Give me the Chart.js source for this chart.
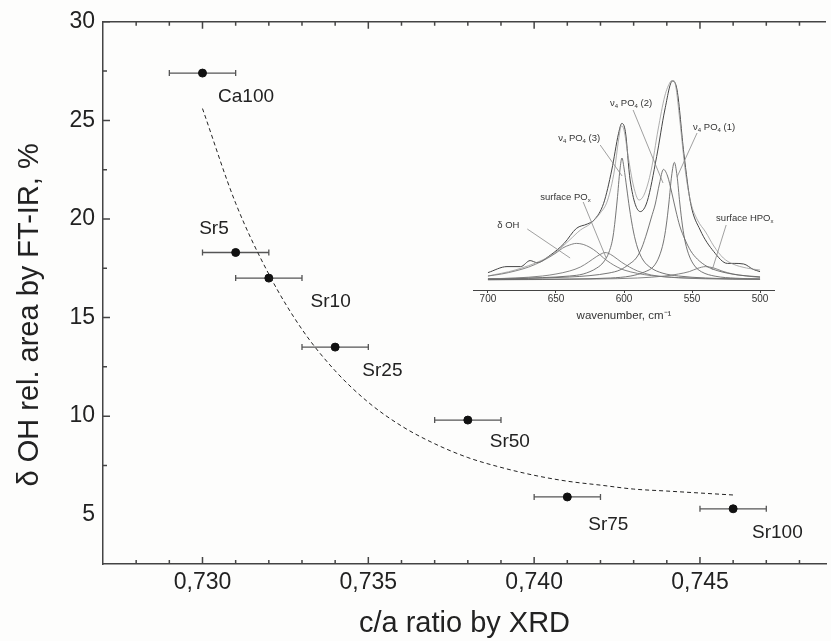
<!DOCTYPE html>
<html>
<head>
<meta charset="utf-8">
<script src="https://cdn.jsdelivr.net/npm/chart.js@4.4.1/dist/chart.umd.min.js"></script>
<style>
  html, body { margin:0; padding:0; background:#fdfdfc; overflow:hidden; }
  #wrap { position:relative; width:831px; height:641px; }
  #main { position:absolute; left:0; top:0; }
  #inset { position:absolute; left:473px; top:70px; }
</style>
</head>
<body>
<div id="wrap">
  <canvas id="main" width="831" height="641"></canvas>
  <canvas id="inset" width="302" height="260"></canvas>
</div>
<script>
//sample data
var samples = ['Ca100', 'Sr5', 'Sr10', 'Sr25', 'Sr50', 'Sr75', 'Sr100'];
var caRatio = [0.730, 0.731, 0.732, 0.734, 0.738, 0.741, 0.746];
var ohArea  = [27.4, 18.3, 17.0, 13.5, 9.8, 5.9, 5.3];
var xErr    = [0.001, 0.001, 0.001, 0.001, 0.001, 0.001, 0.001];
var xTicks = [0.730, 0.735, 0.740, 0.745];
var yTicks = [5, 10, 15, 20, 25, 30];

//where each sample name sits (data coords, left edge / middle)
var labelX = [0.73047, 0.7299, 0.73326, 0.73482, 0.73866, 0.74163, 0.74657];
var labelY = [26.2, 19.5, 15.8, 12.3, 8.7, 4.5, 4.1];

//dashed decay curve
var fitX = [0.730, 0.731, 0.732, 0.733, 0.734, 0.735, 0.736, 0.737, 0.738, 0.739, 0.740, 0.741, 0.742, 0.743, 0.744, 0.745, 0.746];
var fitY = [25.6, 20.8, 17.2, 14.4, 12.3, 10.7, 9.5, 8.6, 7.9, 7.4, 7.0, 6.7, 6.5, 6.3, 6.2, 6.1, 6.0];

//inset FT-IR spectrum: [wavenumber, intensity]
var spectrum = [[700,0.037],[686,0.067],[676,0.067],[669,0.097],[664,0.087],[654,0.125],[644,0.183],[635,0.258],[627,0.28],[622,0.30],[615,0.383],[609,0.55],[604,0.733],[601.6,0.783],[599,0.742],[595.5,0.5],[588,0.342],[583,0.392],[576,0.617],[570,0.85],[564.4,0.995],[561,0.95],[556,0.633],[551,0.383],[544,0.25],[534,0.142],[524,0.083],[519,0.083],[512,0.08],[505,0.053],[500,0.042]];
var envelope = [[700,0.02],[680,0.05],[660,0.10],[650,0.14],[640,0.20],[632,0.25],[625,0.28],[618,0.33],[612,0.40],[607,0.55],[604,0.70],[602,0.77],[600,0.75],[597,0.62],[593,0.47],[589,0.40],[585,0.43],[580,0.55],[575,0.75],[570,0.92],[566,0.99],[564,1.0],[562,0.97],[559,0.80],[555,0.55],[551,0.39],[546,0.30],[540,0.24],[534,0.17],[527,0.11],[520,0.08],[510,0.06],[500,0.05]];
var peakOH = [[700,0.02],[690,0.03],[680,0.045],[670,0.065],[660,0.095],[650,0.135],[645,0.16],[640,0.175],[635,0.183],[630,0.178],[625,0.163],[620,0.14],[615,0.11],[610,0.085],[605,0.065],[600,0.05],[590,0.033],[580,0.022],[570,0.016],[560,0.012],[540,0.008],[520,0.006],[500,0.005]];
var peakSurfPO = [[700,0.006],[680,0.01],[660,0.02],[650,0.03],[640,0.045],[632,0.065],[626,0.09],[620,0.118],[616,0.133],[614,0.137],[612,0.135],[608,0.12],[602,0.09],[596,0.065],[590,0.045],[580,0.025],[570,0.016],[560,0.011],[540,0.006],[520,0.004],[500,0.003]];
var peakPO3 = [[700,0.006],[660,0.012],[640,0.02],[630,0.03],[620,0.06],[615,0.09],[611,0.14],[608,0.22],[605,0.40],[603,0.55],[601.5,0.61],[600,0.56],[598,0.46],[596,0.36],[593,0.24],[590,0.16],[586,0.10],[580,0.06],[572,0.035],[560,0.02],[540,0.01],[520,0.006],[500,0.004]];
var peakPO2 = [[700,0.005],[670,0.008],[640,0.015],[625,0.022],[611,0.035],[603,0.05],[596,0.08],[591,0.11],[587,0.16],[583,0.24],[580,0.31],[577,0.38],[574,0.48],[571,0.553],[568,0.52],[565,0.44],[562,0.35],[559,0.27],[555,0.20],[551,0.146],[546,0.104],[539,0.068],[531,0.046],[516,0.025],[500,0.016]];
var peakPO1 = [[700,0.002],[640,0.005],[610,0.01],[595,0.02],[585,0.04],[578,0.07],[574,0.12],[571,0.19],[569,0.27],[567,0.385],[565,0.52],[563,0.588],[561,0.52],[559,0.385],[557,0.27],[555,0.19],[552,0.12],[548,0.07],[543,0.041],[533,0.019],[518,0.009],[500,0.005]];
var peakHPO = [[700,0.001],[620,0.005],[590,0.01],[570,0.02],[560,0.03],[552,0.042],[546,0.058],[540,0.067],[534,0.06],[528,0.045],[520,0.03],[510,0.02],[500,0.013]];
var insetTicks = [700, 650, 600, 550, 500];

//inset annotations: label pieces [text, isSubscript], anchor, leader line
var insetLabels = [
  {parts: [['\u03b4 OH',0]], wn: 693.2, I: 0.275},
  {parts: [['surface PO',0],['x',1]], wn: 661.6, I: 0.415},
  {parts: [['\u03bd',0],['4',1],[' PO',0],['4',1],[' (3)',0]], wn: 648.4, I: 0.71},
  {parts: [['\u03bd',0],['4',1],[' PO',0],['4',1],[' (2)',0]], wn: 610.2, I: 0.885},
  {parts: [['\u03bd',0],['4',1],[' PO',0],['4',1],[' (1)',0]], wn: 549.2, I: 0.765},
  {parts: [['surface HPO',0],['x',1]], wn: 532.3, I: 0.31}
];
var insetLeaders = [[671.1,0.255,639.6,0.11],[630.0,0.39,613.1,0.11],[617.5,0.675,601.4,0.52],[593.3,0.85,571.3,0.485],[546.3,0.735,561.0,0.515],[524.9,0.275,535.2,0.05]];

var FONT = "'Liberation Sans', Arial, sans-serif";
var INK = '#222';
var AXIS = '#444';

function pts(xs, ys) {
  return xs.map(function(x, i) { return {x: x, y: ys[i]}; });
}
function pairs(arr) {
  return arr.map(function(p) { return {x: p[0], y: p[1]}; });
}
function fixTicks(list) {
  return function(s) { s.ticks = list.map(function(v) { return {value: v}; }); };
}

//error bars, tick marks, point names, y title
var mainDecor = {
  id: 'mainDecor',
  beforeDatasetsDraw: function(chart) {
    var ctx = chart.ctx, xs = chart.scales.x, ys = chart.scales.y;
    ctx.save();
    ctx.strokeStyle = '#555';
    ctx.lineWidth = 1.3;
    for (var i = 0; i < caRatio.length; i++) {
      var x1 = xs.getPixelForValue(caRatio[i] - xErr[i]);
      var x2 = xs.getPixelForValue(caRatio[i] + xErr[i]);
      var y = ys.getPixelForValue(ohArea[i]);
      ctx.beginPath();
      ctx.moveTo(x1, y); ctx.lineTo(x2, y);
      ctx.moveTo(x1, y - 3); ctx.lineTo(x1, y + 3);
      ctx.moveTo(x2, y - 3); ctx.lineTo(x2, y + 3);
      ctx.stroke();
    }
    ctx.restore();
  },
  afterDraw: function(chart) {
    var ctx = chart.ctx, xs = chart.scales.x, ys = chart.scales.y, a = chart.chartArea;
    ctx.save();
    ctx.strokeStyle = AXIS;
    ctx.lineWidth = 1.5;
    //top frame line
    ctx.beginPath();
    ctx.moveTo(a.left, a.top); ctx.lineTo(a.right, a.top);
    ctx.stroke();
    //x ticks, inward, bottom and top
    ctx.beginPath();
    for (var k = 728; k <= 748; k++) {
      var px = xs.getPixelForValue(k / 1000);
      var len = (k % 5 === 0) ? 7 : 4;
      ctx.moveTo(px, a.bottom); ctx.lineTo(px, a.bottom - len);
      ctx.moveTo(px, a.top); ctx.lineTo(px, a.top + len);
    }
    //y ticks, inward
    for (var m = 3; m <= 12; m++) {
      var py = ys.getPixelForValue(m * 2.5);
      var ylen = (m % 2 === 0) ? 7 : 4;
      ctx.moveTo(a.left, py); ctx.lineTo(a.left + ylen, py);
    }
    ctx.stroke();

    //sample names
    ctx.fillStyle = INK;
    ctx.font = '19px ' + FONT;
    ctx.textAlign = 'left';
    ctx.textBaseline = 'middle';
    for (var i = 0; i < samples.length; i++) {
      ctx.fillText(samples[i], xs.getPixelForValue(labelX[i]), ys.getPixelForValue(labelY[i]));
    }

    //y axis title
    ctx.translate(30, (a.top + a.bottom) / 2 + 22);
    ctx.rotate(-Math.PI / 2);
    ctx.font = '29px ' + FONT;
    ctx.textAlign = 'center';
    ctx.fillText('\u03b4 OH rel. area by FT-IR, %', 0, 0);
    ctx.restore();
  }
};

var mainChart = new Chart(document.getElementById('main'), {
  type: 'scatter',
  data: {
    datasets: [
      {
        label: 'fit',
        data: pts(fitX, fitY),
        showLine: true,
        borderColor: '#222',
        borderWidth: 1,
        borderDash: [4, 3],
        pointRadius: 0,
        cubicInterpolationMode: 'monotone',
        fill: false
      },
      {
        label: 'samples',
        data: pts(caRatio, ohArea),
        pointRadius: 4,
        pointBackgroundColor: '#111',
        pointBorderColor: '#111',
        showLine: false
      }
    ]
  },
  options: {
    responsive: false,
    animation: false,
    layout: {padding: {top: 21, left: 0, right: 0, bottom: 0}},
    plugins: {legend: {display: false}, tooltip: {enabled: false}},
    scales: {
      x: {
        type: 'linear',
        min: 0.727,
        max: 0.7488,
        afterBuildTicks: fixTicks(xTicks),
        afterFit: function(s) { s.height = 77; },
        grid: {display: false, drawTicks: false},
        border: {display: true, color: AXIS, width: 1.5},
        ticks: {
          autoSkip: false,
          maxRotation: 0,
          padding: 5,
          color: INK,
          font: {family: FONT, size: 23},
          callback: function(v) { return v.toFixed(3).replace('.', ','); }
        },
        title: {
          display: true,
          text: 'c/a ratio by XRD',
          color: INK,
          font: {family: FONT, size: 29, lineHeight: 1.2},
          padding: {top: 0, bottom: 0}
        }
      },
      y: {
        min: 2.5,
        max: 30,
        afterBuildTicks: fixTicks(yTicks),
        afterFit: function(s) { s.width = 103; },
        grid: {display: false, drawTicks: false},
        border: {display: true, color: AXIS, width: 1.5},
        ticks: {
          padding: 8,
          color: INK,
          font: {family: FONT, size: 23}
        }
      }
    }
  },
  plugins: [mainDecor]
});

//leader lines and peak names in the inset
var insetDecor = {
  id: 'insetDecor',
  afterDatasetsDraw: function(chart) {
    var ctx = chart.ctx, xs = chart.scales.x, ys = chart.scales.y;
    ctx.save();
    ctx.strokeStyle = '#888';
    ctx.lineWidth = 0.8;
    ctx.beginPath();
    insetLeaders.forEach(function(l) {
      ctx.moveTo(xs.getPixelForValue(l[0]), ys.getPixelForValue(l[1]));
      ctx.lineTo(xs.getPixelForValue(l[2]), ys.getPixelForValue(l[3]));
    });
    ctx.stroke();
    ctx.fillStyle = '#333';
    ctx.textBaseline = 'middle';
    ctx.textAlign = 'left';
    insetLabels.forEach(function(lab) {
      var x = xs.getPixelForValue(lab.wn), y = ys.getPixelForValue(lab.I);
      lab.parts.forEach(function(p) {
        ctx.font = (p[1] ? '6px ' : '9.5px ') + FONT;
        ctx.fillText(p[0], x, p[1] ? y + 3 : y);
        x += ctx.measureText(p[0]).width;
      });
    });
    ctx.restore();
  }
};

function insetSet(arr, color, width) {
  return {
    data: pairs(arr),
    showLine: true,
    borderColor: color,
    borderWidth: width,
    pointRadius: 0,
    cubicInterpolationMode: 'monotone',
    fill: false
  };
}

var insetChart = new Chart(document.getElementById('inset'), {
  type: 'scatter',
  data: {
    datasets: [
      insetSet(peakOH, '#777', 0.9),
      insetSet(peakSurfPO, '#777', 0.9),
      insetSet(peakPO3, '#666', 0.9),
      insetSet(peakPO2, '#666', 0.9),
      insetSet(peakPO1, '#666', 0.9),
      insetSet(peakHPO, '#777', 0.9),
      insetSet(envelope, '#999', 0.8),
      insetSet(spectrum, '#444', 1)
    ]
  },
  options: {
    responsive: false,
    animation: false,
    layout: {padding: {top: 10, left: 0, right: 0, bottom: 0}},
    plugins: {legend: {display: false}, tooltip: {enabled: false}},
    scales: {
      x: {
        type: 'linear',
        reverse: true,
        min: 489,
        max: 711,
        afterBuildTicks: fixTicks(insetTicks),
        afterFit: function(s) { s.height = 40; },
        grid: {display: true, drawOnChartArea: false, drawTicks: true, tickLength: 3, color: AXIS},
        border: {display: true, color: AXIS, width: 1},
        ticks: {autoSkip: false, maxRotation: 0, padding: 0, color: '#333', font: {family: FONT, size: 10}},
        title: {
          display: true,
          text: 'wavenumber, cm\u207b\u00b9',
          color: '#333',
          font: {family: FONT, size: 11.5, lineHeight: 1.2},
          padding: {top: 0, bottom: 7}
        }
      },
      y: {
        display: false,
        min: -0.05,
        max: 1.0
      }
    }
  },
  plugins: [insetDecor]
});
</script>
</body>
</html>
